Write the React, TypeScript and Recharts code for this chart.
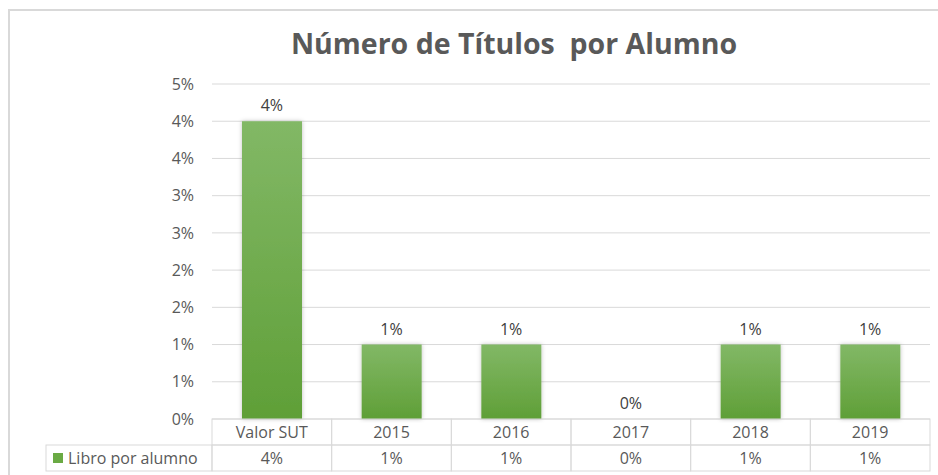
import React from "react";
import {
  ComposedChart,
  Bar,
  Line,
  XAxis,
  YAxis,
  CartesianGrid,
  LabelList,
} from "recharts";

const categories = ["Valor SUT", "2015", "2016", "2017", "2018", "2019"];
const libroPorAlumno = [4, 1, 1, 0, 1, 1];
const yTicks = [0, 0.5, 1, 1.5, 2, 2.5, 3, 3.5, 4, 4.5];
const seriesName = "Libro por alumno";

const data = categories.map((c, i) => ({ name: c, value: libroPorAlumno[i] }));

const FONT = "'Open Sans', 'Noto Sans', sans-serif";
const GRID = "#d9d9d9";
const TEXT = "#595959";

const pct = (v: number) => `${Math.round(v)}%`;

const W = 938;
const H = 475;
const PLOT_LEFT = 212;
const PLOT_RIGHT = 930;
const BAND = (PLOT_RIGHT - PLOT_LEFT) / categories.length;

// draws one column of the data table under the plot
function TableTick(props: any) {
  const { x, y, payload, index } = props;
  const left = x - BAND / 2;
  const top = y;
  const rowH = 26;
  return (
    <g>
      <rect x={left} y={top} width={BAND} height={rowH} fill="none" stroke={GRID} />
      <rect x={left} y={top + rowH} width={BAND} height={rowH} fill="none" stroke={GRID} />
      <text x={x} y={top + 19} textAnchor="middle" fill={TEXT} fontSize={16} fontFamily={FONT}>
        {payload.value}
      </text>
      <text x={x} y={top + rowH + 19} textAnchor="middle" fill={TEXT} fontSize={16} fontFamily={FONT}>
        {pct(libroPorAlumno[index])}
      </text>
      {index === 0 && (
        <g>
          <rect x={46} y={top + rowH} width={left - 46} height={rowH} fill="none" stroke={GRID} />
          <rect x={53} y={top + rowH + 8} width={10} height={10} fill="#6aaa44" />
          <text x={68} y={top + rowH + 19} fill={TEXT} fontSize={16} fontFamily={FONT}>
            {seriesName}
          </text>
        </g>
      )}
    </g>
  );
}

export default function App() {
  return (
    <div
      style={{
        position: "absolute",
        left: 0,
        top: 0,
        width: W,
        height: H,
        background: "#fff",
        overflow: "hidden",
      }}
    >
      <div
        style={{
          position: "absolute",
          left: 8,
          top: 9,
          width: W,
          height: H,
          borderLeft: "2px solid #d9d9d9",
          borderTop: "2px solid #d9d9d9",
        }}
      />
      <div
        style={{
          position: "absolute",
          left: 0,
          top: 23,
          width: 1028,
          textAlign: "center",
          fontFamily: FONT,
          fontWeight: 700,
          fontSize: 28.5,
          lineHeight: "40px",
          color: TEXT,
          whiteSpace: "pre",
        }}
      >
        {"Número de Títulos  por Alumno"}
      </div>
      <ComposedChart
        width={W}
        height={H}
        data={data}
        margin={{ top: 84, right: W - PLOT_RIGHT, bottom: 3, left: PLOT_LEFT - 60 }}
        style={{ position: "absolute", left: 0, top: 0 }}
      >
        <defs>
          <linearGradient id="barGrad" x1="0" y1="0" x2="0" y2="1">
            <stop offset="0%" stopColor="#82b866" />
            <stop offset="100%" stopColor="#5f9f37" />
          </linearGradient>
          <filter id="barShadow" x="-20%" y="-5%" width="140%" height="110%">
            <feDropShadow dx="0" dy="0" stdDeviation="2" floodColor="#000" floodOpacity="0.25" />
          </filter>
        </defs>
        <CartesianGrid vertical={false} stroke={GRID} />
        <XAxis
          dataKey="name"
          height={53}
          axisLine={false}
          tickLine={false}
          tickSize={0}
          tickMargin={0}
          interval={0}
          tick={<TableTick />}
        />
        <YAxis
          width={60}
          domain={[0, 4.5]}
          ticks={yTicks}
          interval={0}
          axisLine={false}
          tickLine={false}
          tickMargin={12}
          tickFormatter={pct}
          tick={{ fill: TEXT, fontSize: 16, fontFamily: FONT }}
        />
        <Bar
          dataKey="value"
          barSize={60}
          fill="url(#barGrad)"
          filter="url(#barShadow)"
          isAnimationActive={false}
        />
        {/* invisible line only used to place the value labels, so the 0% one shows too */}
        <Line
          dataKey="value"
          stroke="none"
          dot={false}
          activeDot={false}
          legendType="none"
          isAnimationActive={false}
        >
          <LabelList
            dataKey="value"
            position="top"
            offset={10}
            formatter={(v: any) => pct(Number(v))}
            fill="#404040"
            fontSize={16}
            fontFamily={FONT}
          />
        </Line>
      </ComposedChart>
    </div>
  );
}
